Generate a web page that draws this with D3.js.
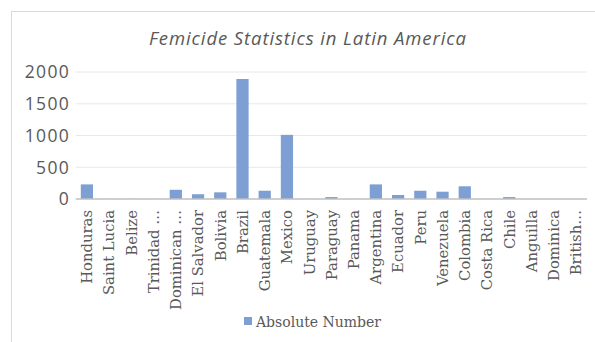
<!DOCTYPE html>
<html>
<head>
<meta charset="utf-8">
<script src="https://cdn.jsdelivr.net/npm/d3@7"></script>
<style>
  body { margin: 0; background: #fff; }
</style>
</head>
<body>
<div id="chart"></div>
<script>
// datos del grafico
const paises = ["Honduras", "Saint Lucia", "Belize", "Trinidad …", "Dominican …", "El Salvador",
  "Bolivia", "Brazil", "Guatemala", "Mexico", "Uruguay", "Paraguay", "Panama", "Argentina",
  "Ecuador", "Peru", "Venezuela", "Colombia", "Costa Rica", "Chile", "Anguilla", "Dominica", "British…"];
const valores = [230, 2, 3, 2, 145, 75, 105, 1890, 130, 1010, 2, 30, 2, 230,
  63, 130, 115, 200, 2, 30, 0, 0, 0];
const ticksY = [0, 500, 1000, 1500, 2000];

const W = 595, H = 342;

const svg = d3.select("#chart").append("svg")
  .attr("width", W).attr("height", H);

// marco del grafico
svg.append("rect")
  .attr("x", 11.5).attr("y", 11.5)
  .attr("width", W + 20).attr("height", H + 20)
  .attr("fill", "none").attr("stroke", "#d9d9d9");

const x = d3.scaleBand().domain(paises)
  .range([75.8, 587]).paddingInner(0.45).paddingOuter(0.225);
const y = d3.scaleLinear().domain([0, 2000]).range([199, 72]);

// lineas de cuadricula
svg.append("g").selectAll("line").data(ticksY.slice(1)).join("line")
  .attr("x1", 75.8).attr("x2", 587)
  .attr("y1", d => y(d)).attr("y2", d => y(d))
  .attr("stroke", "#e8e8e8").attr("stroke-width", 1);

// etiquetas eje Y
svg.append("g").selectAll("text").data(ticksY).join("text")
  .attr("x", 70).attr("y", d => y(d)).attr("dy", "0.36em")
  .attr("text-anchor", "end")
  .attr("font-family", "Open Sans, sans-serif").attr("font-size", 17.5)
  .attr("letter-spacing", 1.3)
  .attr("fill", "#595959")
  .text(d => d);

// barras
svg.append("g").selectAll("rect").data(valores).join("rect")
  .attr("x", (d, i) => x(paises[i]))
  .attr("width", x.bandwidth())
  .attr("y", d => y(d))
  .attr("height", d => y(0) - y(d))
  .attr("fill", "#7d9fd3");

// eje X
svg.append("line")
  .attr("x1", 75.8).attr("x2", 587)
  .attr("y1", 199).attr("y2", 199)
  .attr("stroke", "#bfbfbf").attr("stroke-width", 1.5);

svg.append("g").selectAll("text").data(paises).join("text")
  .attr("transform", d => `translate(${x(d) + x.bandwidth() / 2},210) rotate(-90)`)
  .attr("dy", "0.36em")
  .attr("text-anchor", "end")
  .attr("font-family", "DejaVu Serif, serif").attr("font-size", 14.8)
  .attr("fill", "#595959")
  .text(d => d);

// titulo
svg.append("text")
  .attr("x", 308).attr("y", 45)
  .attr("text-anchor", "middle")
  .attr("font-family", "Open Sans, sans-serif").attr("font-style", "italic")
  .attr("font-size", 18.5).attr("letter-spacing", 0.9)
  .attr("fill", "#595959")
  .text("Femicide Statistics in Latin America");

// leyenda
svg.append("rect")
  .attr("x", 244).attr("y", 317).attr("width", 8).attr("height", 8)
  .attr("fill", "#7d9fd3");
svg.append("text")
  .attr("x", 256).attr("y", 327)
  .attr("font-family", "DejaVu Serif, serif").attr("font-size", 14)
  .attr("fill", "#595959")
  .text("Absolute Number");
</script>
</body>
</html>
